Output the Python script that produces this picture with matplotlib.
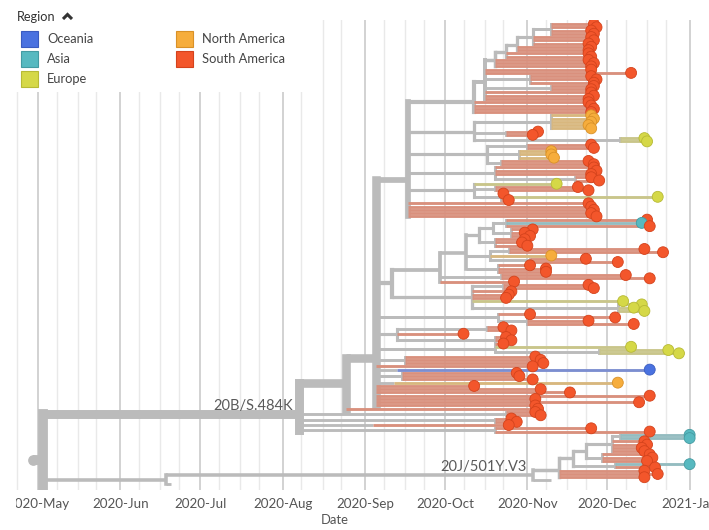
import matplotlib
matplotlib.use('Agg')
import matplotlib.pyplot as plt
import matplotlib.dates as mdates
from matplotlib.patches import Rectangle
from matplotlib.lines import Line2D
from matplotlib.transforms import Bbox
import numpy as np
from datetime import date

plt.rcParams['font.family'] = ['Lato', 'DejaVu Sans']

# region legend
regions = ['Oceania', 'Asia', 'Europe', 'North America', 'South America']
region_codes = ['O', 'A', 'E', 'N', 'S']
region_colors = ['#4A72E0', '#57B9C0', '#D5D847', '#F6AD3C', '#F3562B']
region_edges = ['#3A5CC0', '#449BA2', '#B7BA35', '#D99128', '#D4431C']
branch_colors = ['#7C8ED0', '#94BCC0', '#C9C58A', '#D8B77E', '#D9907D']

tick_months = ['2020-05-01', '2020-06-01', '2020-07-01', '2020-08-01', '2020-09-01',
               '2020-10-01', '2020-11-01', '2020-12-01', '2021-01-01']

# tree: internal node = [date, children...], tip = 'region:date'
# dates are MM-DD, January to March fall in 2021
ladder_6 = ['11-10', 'S:11-26', 'S:11-27', 'S:11-25', 'S:11-26']
ladder_5 = ['11-03', ladder_6, 'S:11-25', 'S:11-26', 'S:11-24']
ladder_4 = ['10-28', ladder_5, 'S:11-25', 'S:11-24']
ladder_3 = ['10-24', ladder_4, 'S:11-24', 'S:11-25']
ladder_2 = ['10-20', ladder_3, 'S:11-24', 'S:11-26', 'S:11-25']
ladder_1 = ['10-16', ladder_2, 'S:11-25', 'S:12-10',
            ['11-02', 'S:11-25', 'S:11-27', 'S:11-26'],
            ['11-10', 'S:11-26', 'S:11-25'],
            'S:11-25', 'S:11-26', 'S:11-24']
top_clade = ['10-12', ladder_1, 'S:11-24', 'S:11-25', 'S:11-26', 'S:11-25']

na_clade = ['10-12',
    ['11-10', 'N:11-25', 'N:11-26', 'N:11-25', 'N:11-24', 'N:11-25'],
    ['10-24', 'S:11-05', 'S:11-03'],
    ['12-06', 'E:12-15', 'E:12-16'],
]
mixed_a = ['10-17',
    ['11-01', 'S:11-25', 'S:11-26'],
    ['10-29', 'N:11-10', 'N:11-10', 'N:11-11'],
    ['10-22', 'S:11-24', 'S:11-26'],
]
mixed_b = ['10-20', 'S:11-26', 'S:11-27', 'S:11-25', ['11-19', 'S:11-25', 'S:11-28']]
mixed_c = ['10-12', 'E:11-12', ['10-20', 'S:11-20', 'S:11-24'],
           ['10-22', 'S:10-23', 'E:12-20', 'S:10-25']]
node_sep17 = ['09-17', top_clade, na_clade, mixed_a, mixed_b, mixed_c,
              'S:11-24', 'S:11-25', 'S:11-26', 'S:11-25', 'S:11-27']

sep_clade = ['09-11',
    ['09-29',
        ['10-09',
            ['10-14',
                ['10-19',
                    ['10-24', 'S:12-16', 'A:12-14', 'S:12-17'],
                    ['10-26', 'S:11-03', 'S:10-31', 'S:11-02'],
                ],
                ['10-20', 'S:10-31', 'S:10-30', 'S:11-01'],
            ],
            ['10-18',
                ['10-25', 'S:12-15', 'S:12-22'],
                'N:11-10',
                ['11-02', 'S:11-23', 'S:12-05'],
            ],
            ['10-21', 'S:11-02', 'S:11-08', 'S:11-08'],
        ],
        ['10-22', 'S:12-08', 'S:12-17'],
        'S:10-27',
    ],
    ['10-11',
        ['10-23', 'S:11-24', 'S:11-26'],
        'S:10-26', 'S:10-25', 'S:10-24',
        'E:12-07',
        ['12-05', 'E:12-14', 'E:12-11', 'E:12-15'],
    ],
]
oct_clade = ['10-21', 'S:11-02', ['11-01', 'S:12-04', 'S:11-24', 'S:12-11']]
sep_b = ['09-13', ['10-17', 'S:10-23', 'S:10-26'], 'S:10-08',
         ['10-20', 'S:10-24', 'S:10-26', 'S:10-23']]
eu_clade = ['10-20', 'E:12-10', ['11-28', 'E:12-24', 'E:12-28']]
sa_trio = ['09-16', 'S:11-04', 'S:11-06', 'S:11-07']
oceania_branch = ['09-13', 'O:12-17']
sa_trio_b = ['09-15', 'S:10-28', 'S:10-29', 'S:11-03']
na_branch = ['09-12', 'N:12-05']

node_sep05 = ['09-05', node_sep17, sep_clade, oct_clade, sep_b, eu_clade, sa_trio,
              'S:11-03', oceania_branch, sa_trio_b, na_branch, 'S:10-12',
              'S:11-06', 'S:11-17', 'S:12-17', 'S:11-04', 'S:12-13', 'S:11-04']
node_aug25 = ['08-25', node_sep05, 'S:11-05']
clade_20b = ['08-07', node_aug25,
             ['10-24', 'S:11-04', 'S:11-06'],
             ['10-20', 'S:10-26', 'S:10-28'],
             ['09-04', 'S:10-25'],
             ['10-20', 'S:11-25', 'S:12-17']]

inner_20j = ['11-13',
    ['11-18',
        ['11-23',
            ['12-03',
                ['12-06', 'A:01-01', 'A:01-01'],
                'S:12-15', 'S:12-16', 'S:12-14', 'S:12-15',
            ],
            ['11-29', 'S:12-17', 'S:12-18', 'S:12-16'],
        ],
        ['12-04', 'A:01-01', 'S:12-19'],
    ],
    'S:12-15', 'S:12-20', 'S:12-15',
]
clade_20j = ['11-03', inner_20j, 'X:11-10']
lineage_20j = ['06-18', clade_20j, 'X:06-20']

tree = ['04-29', ['05-03', clade_20b, lineage_20j, 'X:05-03']]

clade_labels = [('20B/S.484K', clade_20b), ('20J/501Y.V3', clade_20j)]


def to_num(s):
    m, d = map(int, s.split('-'))
    return mdates.date2num(date(2021 if m < 4 else 2020, m, d))


nodes = {}


def layout(node, counter):
    if isinstance(node, str):
        code, d = node.split(':')
        info = dict(x=to_num(d), y=counter[0], code=code, n=1, kids=[])
        counter[0] += 1
        return info
    kids = [layout(c, counter) for c in node[1:]]
    info = dict(x=to_num(node[0]), y=np.mean([k['y'] for k in kids]), code=None,
                n=sum(k['n'] for k in kids), kids=kids)
    nodes[id(node)] = info
    return info


counter = [0]
root = layout(tree, counter)
n_tips = counter[0]

fig = plt.figure(figsize=(7.09, 5.30), dpi=100)
ax = fig.add_axes([10 / 709, 40 / 530, 690 / 709, 470 / 530])

PX = 0.72  # points per pixel


def width(n):
    return (2.8 + 7.0 * n / n_tips) * PX


tip_x, tip_y, tip_c, tip_e = [], [], [], []


def draw(node, parent_x):
    w = width(node['n'])
    if node['code'] is None:
        ax.plot([parent_x, node['x']], [node['y'], node['y']], color='#BBBBBB', lw=w,
                solid_capstyle='butt', zorder=1)
        ys = [k['y'] for k in node['kids']]
        ax.plot([node['x'], node['x']], [min(ys), max(ys)], color='#BBBBBB', lw=w,
                solid_capstyle='projecting', zorder=1)
        for k in node['kids']:
            draw(k, node['x'])
    elif node['code'] == 'X':
        ax.plot([parent_x, node['x']], [node['y'], node['y']], color='#BBBBBB', lw=w,
                solid_capstyle='butt', zorder=1)
    else:
        i = region_codes.index(node['code'])
        ax.plot([parent_x, node['x']], [node['y'], node['y']], color=branch_colors[i],
                lw=w, solid_capstyle='butt', zorder=2)
        tip_x.append(node['x'])
        tip_y.append(node['y'])
        tip_c.append(region_colors[i])
        tip_e.append(region_edges[i])


draw(root, root['x'])
ax.scatter(tip_x, tip_y, s=62, c=tip_c, edgecolors=tip_e, linewidths=0.6, zorder=3)
ax.scatter([root['x']], [root['y']], s=45, c='#BBBBBB', zorder=3)

for text, clade in clade_labels:
    info = nodes[id(clade)]
    ax.annotate(text, xy=(info['x'], info['y']), xytext=(-4, 6), textcoords='offset points',
                ha='right', va='center', fontsize=10.5, color='#5A5A5A', zorder=4)

# axes range
base = mdates.date2num(date(2020, 5, 1))
ax.set_xlim(base - 10.5, base + 248.9)
spacing = 463 / (n_tips - 1)
ax.set_ylim(n_tips - 1 + 3 / spacing, -4 / spacing)

ticks = [mdates.datestr2num(t) for t in tick_months]
ax.set_xticks(ticks)
ax.set_xticklabels([mdates.num2date(t).strftime('%Y-%b') for t in ticks])
ax.xaxis.set_minor_locator(mdates.DayLocator(bymonthday=[8, 16, 23]))
ax.grid(which='major', axis='x', color='#D2D2D2', lw=1.4, zorder=0)
ax.grid(which='minor', axis='x', color='#E9E9E9', lw=1.0, zorder=0)
ax.set_axisbelow(True)
ax.tick_params(axis='x', which='both', length=0, pad=6, labelsize=9.6, labelcolor='#555555')
ax.set_yticks([])
for s in ax.spines.values():
    s.set_visible(False)
for tick in ax.xaxis.get_major_ticks():
    tick.label1.set_clip_box(Bbox([[16, 0], [709, 530]]))
    tick.label1.set_clip_on(True)

fig.text(335 / 709, 1 - 520 / 530, 'Date', ha='center', va='center', fontsize=9.4,
         color='#555555')


def fx(x):
    return x / 709


def fy(y):
    return 1 - y / 530


# legend panel
fig.add_artist(Rectangle((0, fy(92)), fx(320), 92 / 530, transform=fig.transFigure,
                         facecolor='white', edgecolor='none', zorder=1))
fig.text(fx(17), fy(17), 'Region', ha='left', va='center', fontsize=9.2, color='#333333')
fig.add_artist(Line2D([fx(63), fx(67.5), fx(72)], [fy(19), fy(14.5), fy(19)],
                      transform=fig.transFigure, color='#333333', lw=2.2,
                      solid_capstyle='butt', solid_joinstyle='miter', zorder=3))
for i, name in enumerate(regions):
    col, row = divmod(i, 3)
    x0 = 21 + col * 155
    y0 = 31 + row * 20
    fig.add_artist(Rectangle((fx(x0), fy(y0 + 16)), 17 / 709, 16 / 530,
                             transform=fig.transFigure, facecolor=region_colors[i],
                             edgecolor=region_edges[i], lw=0.8, zorder=2))
    fig.text(fx(x0 + 26), fy(y0 + 8), name, ha='left', va='center', fontsize=9.3,
             color='#444444', zorder=3)

fig.savefig('out.png', dpi=100)
